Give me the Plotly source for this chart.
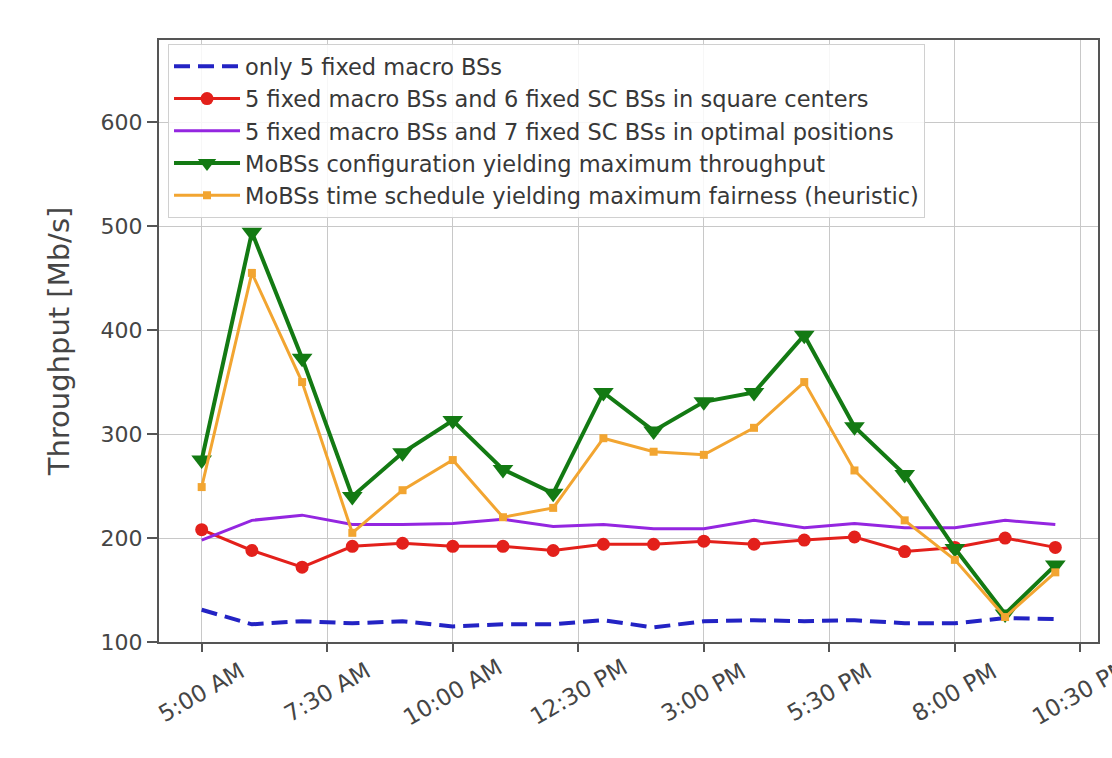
import plotly.graph_objects as go

# hourly sample times (5:00 AM .. 10:00 PM)
hours = ["05:00", "06:00", "07:00", "08:00", "09:00", "10:00", "11:00", "12:00", "13:00",
         "14:00", "15:00", "16:00", "17:00", "18:00", "19:00", "20:00", "21:00", "22:00"]

only_macro = [131, 117, 120, 118, 120, 115, 117, 117, 121, 114, 120, 121, 120, 121, 118, 118, 123, 122]
sc_square = [208, 188, 172, 192, 195, 192, 192, 188, 194, 194, 197, 194, 198, 201, 187, 191, 200, 191]
sc_optimal = [198, 217, 222, 213, 213, 214, 218, 211, 213, 209, 209, 217, 210, 214, 210, 210, 217, 213]
mobss_throughput = [275, 494, 373, 240, 282, 313, 266, 243, 340, 303, 331, 340, 395, 307, 261, 190, 127, 174]
mobss_fairness = [249, 455, 350, 205, 246, 275, 220, 229, 296, 283, 280, 306, 350, 265, 217, 179, 124, 167]

tick_times = ["05:00", "07:30", "10:00", "12:30", "15:00", "17:30", "20:00", "22:30"]
tick_labels = ["5:00 AM", "7:30 AM", "10:00 AM", "12:30 PM", "3:00 PM", "5:30 PM", "8:00 PM", "10:30 PM"]

day = "2021-06-01 "
x = [day + h for h in hours]
tick_x = [day + t for t in tick_times]

fig = go.Figure()
fig.add_trace(go.Scatter(
    x=x, y=only_macro, mode="lines", name="only 5 fixed macro BSs",
    line=dict(color="#2323c4", width=4, dash="16px,8px"), legendgroup="a"))
fig.add_trace(go.Scatter(
    x=x, y=sc_square, mode="lines+markers",
    name="5 fixed macro BSs and 6 fixed SC BSs in square centers",
    line=dict(color="#e3201b", width=3), marker=dict(symbol="circle", size=13, color="#e3201b"),
    legendgroup="b"))
fig.add_trace(go.Scatter(
    x=x, y=sc_optimal, mode="lines",
    name="5 fixed macro BSs and 7 fixed SC BSs in optimal positions",
    line=dict(color="#9426e0", width=3), legendgroup="c"))
fig.add_trace(go.Scatter(
    x=x, y=mobss_throughput, mode="lines+markers",
    name="MoBSs configuration yielding maximum throughput",
    line=dict(color="#137a13", width=4),
    marker=dict(symbol="triangle-down", size=18, color="#137a13"), legendgroup="d"))
fig.add_trace(go.Scatter(
    x=x, y=mobss_fairness, mode="lines+markers",
    name="MoBSs time schedule yielding maximum fairness (heuristic)",
    line=dict(color="#f2a531", width=3),
    marker=dict(symbol="square", size=8, color="#f2a531"), legendgroup="e"))

# rotated time labels centred under their ticks
label_font = dict(family="DejaVu Sans", size=23, color="#454545")
for tx, tl in zip(tick_x, tick_labels):
    fig.add_annotation(x=tx, xref="x", y=-0.083, yref="paper", text=tl, showarrow=False,
                       textangle=-30, xanchor="center", yanchor="middle", font=label_font)

fig.update_layout(
    width=1112, height=758,
    margin=dict(l=159, r=12, t=40, b=116),
    paper_bgcolor="white", plot_bgcolor="white",
    font=dict(family="DejaVu Sans", color="#444444"),
    legend=dict(
        x=0.0096, y=0.993, xanchor="left", yanchor="top",
        bgcolor="rgba(255,255,255,0.85)", bordercolor="#d0d0d0", borderwidth=1,
        font=dict(family="DejaVu Sans", size=22.5, color="#383838"),
        traceorder="grouped", tracegroupgap=0, itemwidth=66,
    ),
    xaxis=dict(
        range=[day + "04:09", day + "22:51"],
        tickvals=tick_x, showticklabels=False,
        ticks="outside", ticklen=8, tickwidth=1.5, tickcolor="#555555",
        showgrid=True, gridcolor="#c8c8c8", gridwidth=1.2,
        showline=True, linecolor="#555555", linewidth=2, mirror=True, zeroline=False,
    ),
    yaxis=dict(
        range=[100, 679],
        tickvals=[100, 200, 300, 400, 500, 600],
        ticks="outside", ticklen=10, tickwidth=1.5, tickcolor="#555555",
        tickfont=dict(family="DejaVu Sans", size=22, color="#454545"),
        showgrid=True, gridcolor="#c8c8c8", gridwidth=1.2,
        showline=True, linecolor="#555555", linewidth=2, mirror=True, zeroline=False,
        title=dict(text="Throughput [Mb/s]", font=dict(family="DejaVu Sans", size=29, color="#454545"),
                   standoff=22),
    ),
    showlegend=True,
)

fig.write_html("out.html")
